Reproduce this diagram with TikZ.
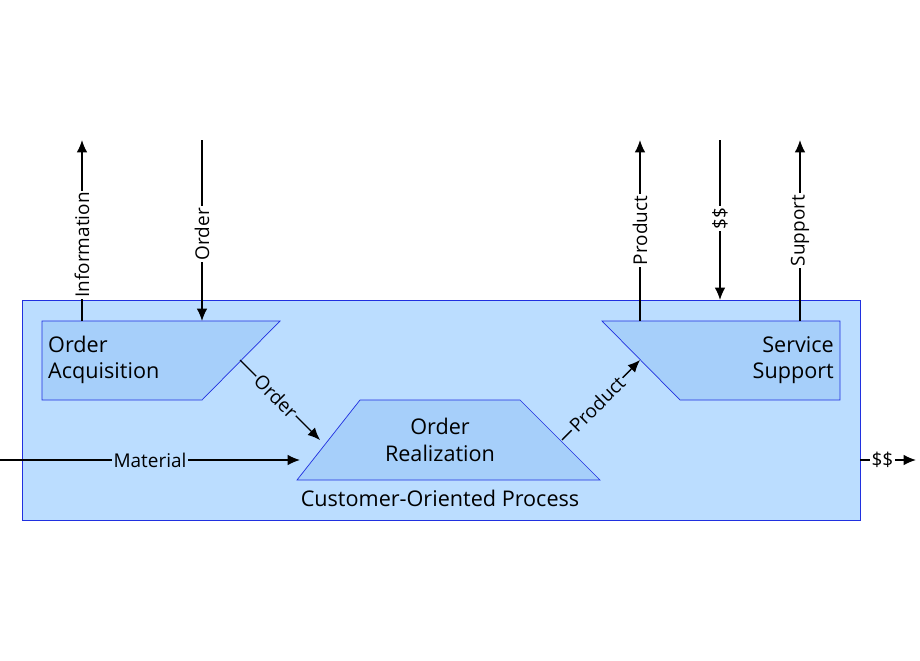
\documentclass[tikz,border=0pt]{standalone}
\usepackage{fontspec}
\setmainfont{Open Sans}
\usetikzlibrary{arrows.meta}
\definecolor{procbg}{HTML}{BBDDFF}
\definecolor{stepbg}{HTML}{A6CFFA}
\definecolor{edge}{HTML}{2030E0}
\tikzset{
  flow/.style={-{Latex[length=7pt,width=6pt]}, thick},
  lbl/.style={fill=white, inner sep=1pt, font=\fontsize{10.8}{12}\selectfont},
  stage/.style={fill=stepbg, draw=edge, thin},
  txt/.style={font=\fontsize{12.3}{15}\selectfont, align=center}
}
\begin{document}
\begin{tikzpicture}[x=0.02cm, y=-0.02cm]
\useasboundingbox (0,0) rectangle (920,660);

\draw[fill=procbg, draw=edge, thin] (22,300) rectangle (860,520);
\node[txt] (cop) at (440,498) {Customer-Oriented Process};

\draw[stage] (42,321) -- (280,321) -- (202,400) -- (42,400) -- cycle;
\node[txt, align=left, anchor=west] (acq) at (42,360) {Order\\Acquisition};
\draw[stage] (360,400) -- (520,400) -- (600,480) -- (297,480) -- cycle;
\node[txt] (real) at (440,440) {Order\\Realization};
\draw[stage] (602,321) -- (840,321) -- (840,400) -- (680,400) -- cycle;
\node[txt, align=right, anchor=east] (serv) at (840,360) {Service\\Support};

% top connectors
\coordinate (infoA) at (82,321);   \coordinate (infoB) at (82,140);
\coordinate (ordA) at (202,140);   \coordinate (ordB) at (202,321);
\coordinate (prodA) at (640,321);  \coordinate (prodB) at (640,140);
\coordinate (payA) at (720,140);   \coordinate (payB) at (720,300);
\coordinate (suppA) at (800,321);  \coordinate (suppB) at (800,140);
\draw[flow] (infoA) -- node[lbl, rotate=90, pos=0.42] {Information} (infoB);
\draw[flow] (ordA) -- node[lbl, rotate=90, pos=0.52] {Order} (ordB);
\draw[flow] (prodA) -- node[lbl, rotate=90, pos=0.5] {Product} (prodB);
\draw[flow] (payA) -- node[lbl, rotate=90, pos=0.49] {\$\$} (payB);
\draw[flow] (suppA) -- node[lbl, rotate=90, pos=0.5] {Support} (suppB);

% inner connectors
\coordinate (oA) at (240,360);  \coordinate (oB) at (320,440);
\coordinate (pA) at (562,440);  \coordinate (pB) at (640,360);
\draw[flow] (oA) -- node[lbl, fill=procbg, rotate=-45, pos=0.45] {Order} (oB);
\draw[flow] (pA) -- node[lbl, fill=procbg, rotate=45, pos=0.45] {Product} (pB);

% side connectors
\coordinate (matA) at (0,460);   \coordinate (matB) at (300,460);
\coordinate (outA) at (860,460); \coordinate (outB) at (916,460);
\draw[flow] (matA) -- node[lbl, fill=procbg, pos=0.5] {Material} (matB);
\draw[flow] (outA) -- node[lbl, pos=0.4] {\$\$} (outB);
\end{tikzpicture}
\end{document}
